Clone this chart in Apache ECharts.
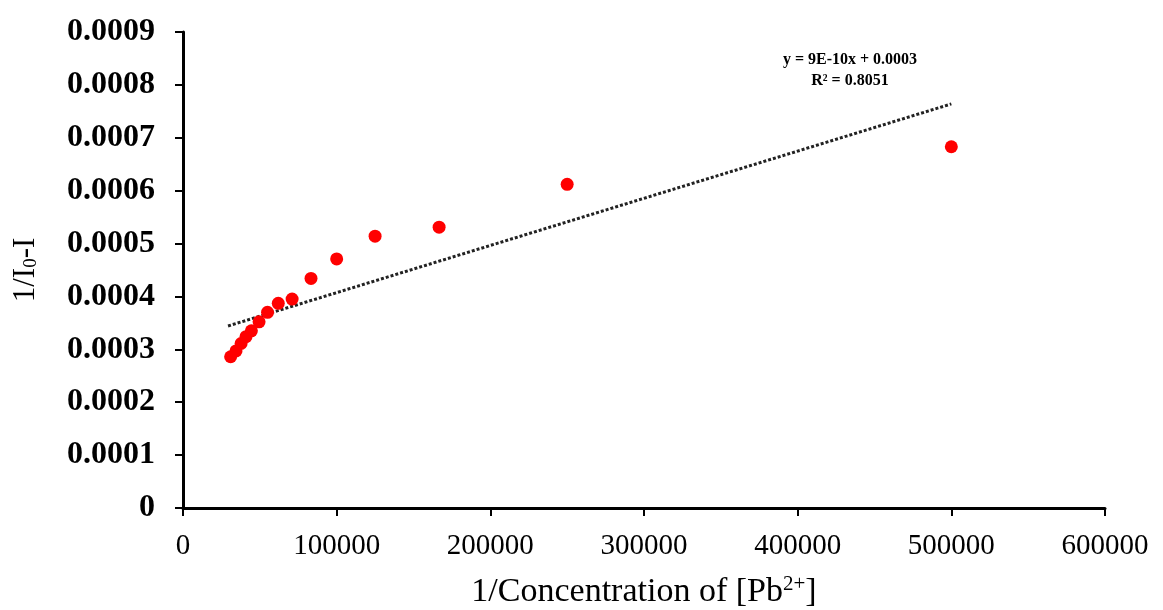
<!DOCTYPE html>
<html>
<head>
<meta charset="utf-8">
<script src="https://cdn.jsdelivr.net/npm/echarts@6/dist/echarts.min.js"></script>
<style>html,body{margin:0;padding:0;background:#fff;}#c{width:1163px;height:610px;}</style>
</head>
<body>
<div id="c"></div>
<script>
// Data
const xValues = [31000, 34500, 37800, 41000, 44500, 49500, 55000, 62000, 71000, 83300, 100000, 125000, 166667, 250000, 500000];
const yValues = [0.000286, 0.000297, 0.000311, 0.000324, 0.000335, 0.000352, 0.000370, 0.000387, 0.000395, 0.000434, 0.000471, 0.000514, 0.000531, 0.000612, 0.000683];
const trendSlope = 8.92e-10;
const trendIntercept = 0.000318;
const trendText = ['y = 9E-10x + 0.0003', 'R² = 0.8051'];
const xTicks = [0, 100000, 200000, 300000, 400000, 500000, 600000];
const yTicks = [0, 0.0001, 0.0002, 0.0003, 0.0004, 0.0005, 0.0006, 0.0007, 0.0008, 0.0009];

const points = xValues.map((x, i) => [x, yValues[i]]);
const xMinD = Math.min(...xValues) - 1700, xMaxD = Math.max(...xValues);
const trend = [[xMinD, trendSlope * xMinD + trendIntercept], [xMaxD, trendSlope * xMaxD + trendIntercept]];

const serif = '"Liberation Serif", "Times New Roman", serif';
const chart = echarts.init(document.getElementById('c'));
chart.setOption({
  animation: false,
  backgroundColor: '#fff',
  grid: { left: 183, right: 58, top: 32, bottom: 102, containLabel: false, outerBoundsMode: 'none' },
  xAxis: {
    type: 'value', min: xTicks[0], max: xTicks[xTicks.length - 1], interval: 100000,
    splitLine: { show: false },
    axisLine: { lineStyle: { color: '#000', width: 3 } },
    axisTick: { show: true, length: 8, lineStyle: { color: '#000', width: 2 } },
    axisLabel: { color: '#000', fontFamily: serif, fontSize: 29, margin: 24, formatter: v => String(v) },
    name: '1/Concentration of [Pb{sup|2+}]',
    nameLocation: 'middle', nameGap: 66,
    nameTextStyle: {
      color: '#000', fontFamily: serif, fontSize: 34,
      rich: { sup: { fontFamily: serif, fontSize: 21, verticalAlign: 'top', padding: [0, 0, 16, 0], color: '#000' } }
    }
  },
  yAxis: {
    type: 'value', min: yTicks[0], max: yTicks[yTicks.length - 1], interval: 0.0001,
    splitLine: { show: false },
    axisLine: { show: true, lineStyle: { color: '#000', width: 3 } },
    axisTick: { show: true, length: 8, lineStyle: { color: '#000', width: 2 } },
    axisLabel: {
      color: '#000', fontFamily: serif, fontSize: 32, fontWeight: 'bold', margin: 28,
      formatter: v => (Math.abs(v) < 1e-12 ? '0' : v.toFixed(4))
    },
    name: '1/I{sub|0}-I',
    nameLocation: 'middle', nameGap: 142, nameRotate: 90,
    nameTextStyle: {
      color: '#000', fontFamily: serif, fontSize: 31,
      rich: { sub: { fontFamily: serif, fontSize: 19, verticalAlign: 'bottom', padding: [12, 0, 0, 0], color: '#000' } }
    }
  },
  graphic: [{
    type: 'text', x: 850, y: 49,
    style: { text: trendText.join('\n'), align: 'center', verticalAlign: 'top', fill: '#000', font: 'bold 16px ' + serif, lineHeight: 21 }
  }],
  series: [
    {
      type: 'line', data: trend, symbol: 'none', silent: true,
      lineStyle: { color: '#222', width: 3, type: [3, 2] }, z: 1
    },
    {
      type: 'scatter', data: points, symbol: 'circle', symbolSize: 13,
      itemStyle: { color: '#ff0000', opacity: 1 }, z: 2
    }
  ]
});
</script>
</body>
</html>
